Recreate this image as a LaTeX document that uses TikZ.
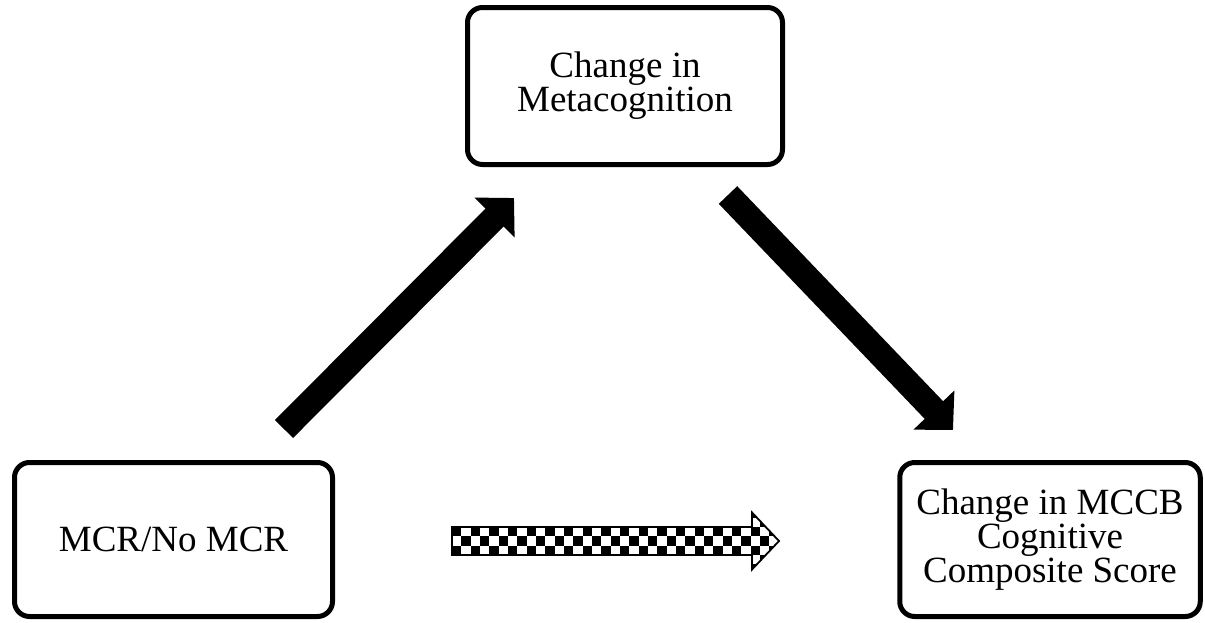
\documentclass[tikz,border=0pt]{standalone}
\usepackage{fontspec}
\setmainfont{Liberation Serif}
\usetikzlibrary{arrows.meta}
\begin{document}
\begin{tikzpicture}[x=1pt,y=-1pt,
  box/.style={draw=black, line width=5pt, rounded corners=15pt, fill=white,
    align=center, inner sep=0pt, font=\fontsize{37}{34}\selectfont},
  fatarrow/.style={line width=25.5pt, draw=black,
    -{Triangle[length=27.6pt,width=55pt]}}]
  \useasboundingbox (0,0) rectangle (1205,622);

  % the three boxes
  \node[box, minimum width=315pt, minimum height=157pt] (meta) at (625,86)
    {Change in\\Metacognition};
  \node[box, minimum width=318pt, minimum height=154pt] (mcr) at (173.5,539.5)
    {MCR/No MCR};
  \node[box, minimum width=300.5pt, minimum height=154pt] (mccb) at (1050,539.5)
    {Change in MCCB\\Cognitive\\Composite Score};

  % solid block arrows between the boxes
  \coordinate (a1s) at (284,429);
  \coordinate (a1e) at (514,198);
  \coordinate (a2s) at (728,195);
  \coordinate (a2e) at (953,430);
  \draw[fatarrow] (a1s) -- (a1e);
  \draw[fatarrow] (a2s) -- (a2e);

  % checkered block arrow along the bottom
  \coordinate (c0) at (452,541);
  \coordinate (c1) at (779,541);
  \begin{scope}
    \clip (452,527) -- (752,527) -- (752,512.5) -- (c1) -- (752,569.5)
      -- (752,555) -- (452,555) -- cycle;
    \foreach \i in {0,...,35}{
      \foreach \j in {-2,...,4}{
        \pgfmathtruncatemacro{\parity}{mod(\i+\j+20,2)}
        \ifnum\parity=0
          \fill[black] (452+\i*9.33,527+\j*9.33) rectangle ++(9.33,9.33);
        \fi
      }
    }
  \end{scope}
  \draw[line width=1.8pt, line join=miter] (c0) -- (452,527) -- (752,527)
    -- (752,512.5) -- (c1) -- (752,569.5) -- (752,555) -- (452,555) -- cycle;
\end{tikzpicture}
\end{document}
